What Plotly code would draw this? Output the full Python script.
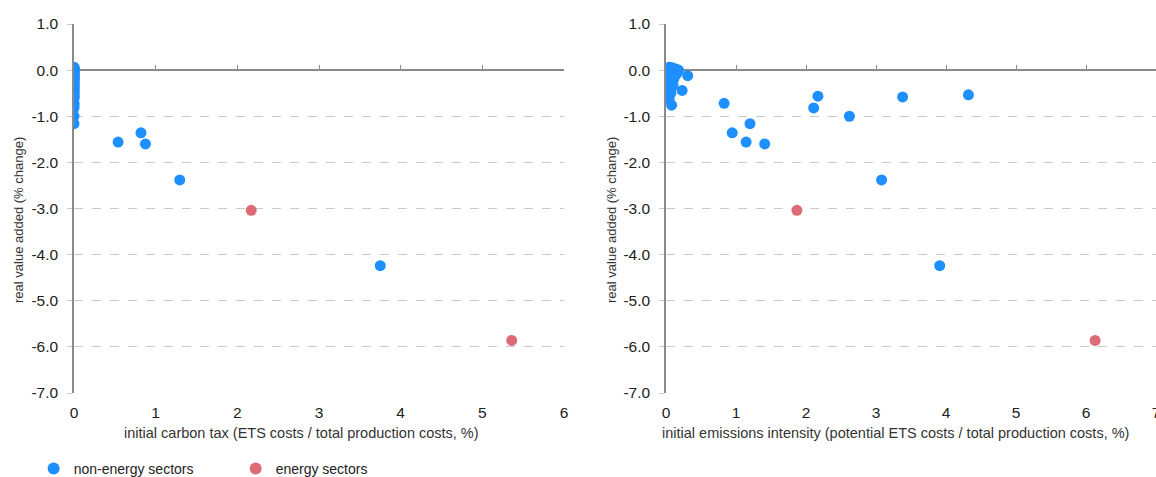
import plotly.graph_objects as go

# ---------------- data ----------------
# non-energy sectors
ne_carbon_tax = [0, 0, 0, 0, 0, 0, 0, 0, 0, 0,
                 0, 0, 0, 0, 0, 0, 0, 0, 0, 0,
                 0, 0, 0, 0, 0, 0, 0, 0, 0, 0,
                 0, 0, 0, 0, 0, 0, 0, 0, 0, 0,
                 0.54, 0.82, 0.875, 1.295, 3.75]
ne_intensity = [0.02, 0.05, 0.09, 0.12, 0.15, 0.18, 0.04, 0.08, 0.13, 0.16,
                0.02, 0.06, 0.10, 0.14, 0.31, 0.03, 0.07, 0.11, 0.01, 0.05,
                0.09, 0.02, 0.06, 0.10, 0.04, 0.08, 0.03, 0.23, 0.06, 0.04,
                0.07, 0.045, 0.08, 0.83, 2.11, 2.17, 2.62, 3.38, 4.32, 1.20,
                1.145, 0.946, 1.41, 3.08, 3.91]
ne_va_change = [0.04, 0.06, 0.05, 0.03, 0.02, 0.00, 0.00, -0.02, -0.04, -0.06,
                -0.08, -0.10, -0.12, -0.10, -0.12, -0.15, -0.17, -0.19, -0.21, -0.23,
                -0.25, -0.28, -0.30, -0.32, -0.35, -0.37, -0.40, -0.44, -0.43, -0.47,
                -0.50, -0.62, -0.76, -0.72, -0.82, -0.565, -1.00, -0.58, -0.535, -1.16,
                -1.56, -1.36, -1.60, -2.38, -4.24]

# energy sectors
en_carbon_tax = [2.17, 5.36]
en_intensity = [1.87, 6.13]
en_va_change = [-3.04, -5.86]

series_names = ["non-energy sectors", "energy sectors"]
series_colors = ["#1E8FFF", "#DC6B76"]

y_ticks = [1, 0, -1, -2, -3, -4, -5, -6, -7]
y_tick_labels = ["1.0", "0.0", "-1.0", "-2.0", "-3.0", "-4.0", "-5.0", "-6.0", "-7.0"]
x1_ticks = [0, 1, 2, 3, 4, 5, 6]
x2_ticks = [0, 1, 2, 3, 4, 5, 6, 7]

x1_title = "initial carbon tax (ETS costs / total production costs, %)"
x2_title = "initial emissions intensity (potential ETS costs / total production costs, %)"
y_title = "real value added (% change)"

# ---------------- layout geometry ----------------
W, H = 1156, 477
FONT = "Liberation Sans, Arial, sans-serif"
TXT = "#222222"
AXC = "#8a8a8a"
GRID = "#c9c9c9"

ydom = [1 - 393 / H, 1 - 24 / H]
x1dom = [74 / W, 564 / W]
x2dom = [666 / W, 1.0]
y_range = [-7, 1]
zero_pos = ydom[0] + (0 - y_range[0]) / (y_range[1] - y_range[0]) * (ydom[1] - ydom[0])

MS = 11

fig = go.Figure()

# left panel
fig.add_trace(go.Scatter(x=ne_carbon_tax, y=ne_va_change, mode="markers",
                         name=series_names[0], legendgroup="ne",
                         marker=dict(color=series_colors[0], size=MS),
                         xaxis="x", yaxis="y"))
fig.add_trace(go.Scatter(x=en_carbon_tax, y=en_va_change, mode="markers",
                         name=series_names[1], legendgroup="en",
                         marker=dict(color=series_colors[1], size=MS),
                         xaxis="x", yaxis="y"))
# right panel
fig.add_trace(go.Scatter(x=ne_intensity, y=ne_va_change, mode="markers",
                         name=series_names[0], legendgroup="ne", showlegend=False,
                         marker=dict(color=series_colors[0], size=MS),
                         xaxis="x2", yaxis="y2"))
fig.add_trace(go.Scatter(x=en_intensity, y=en_va_change, mode="markers",
                         name=series_names[1], legendgroup="en", showlegend=False,
                         marker=dict(color=series_colors[1], size=MS),
                         xaxis="x2", yaxis="y2"))
# empty traces to activate the zero-line axes
fig.add_trace(go.Scatter(x=[], y=[], xaxis="x3", yaxis="y", showlegend=False, hoverinfo="skip"))
fig.add_trace(go.Scatter(x=[], y=[], xaxis="x4", yaxis="y2", showlegend=False, hoverinfo="skip"))

tickfont = dict(family=FONT, size=15.5, color=TXT)
xtitlefont = dict(family=FONT, size=14.5, color="#333333")
ytitlefont = dict(family=FONT, size=13, color="#333333")


def bottom_axis(dom, rng, ticks, anchor):
    return dict(domain=dom, range=rng, anchor=anchor, automargin=False,
                tickmode="array", tickvals=ticks, ticktext=[str(t) for t in ticks],
                showline=False, showgrid=False, zeroline=False, ticks="",
                tickfont=tickfont, ticklabelstandoff=8, ticklabeloverflow="allow",
                layer="below traces")


def zero_axis(over, rng, ticks):
    return dict(overlaying=over, anchor="free", position=zero_pos, side="bottom",
                range=rng, tickmode="array", tickvals=ticks, automargin=False,
                ticks="inside", ticklen=4, tickcolor=AXC, tickwidth=1,
                showticklabels=False, showline=True, linecolor=AXC, linewidth=1.5,
                showgrid=False, zeroline=False, layer="below traces")


def left_axis(anchor):
    return dict(domain=ydom, range=y_range, anchor=anchor, automargin=False,
                tickmode="array", tickvals=y_ticks, ticktext=y_tick_labels,
                showgrid=True, gridcolor=GRID, griddash="dash", gridwidth=1,
                showline=True, linecolor=AXC, linewidth=1.5,
                ticks="outside", ticklen=5, tickcolor=GRID, tickwidth=1,
                zeroline=False, tickfont=tickfont, ticklabelstandoff=6,
                layer="below traces")


annotations = [
    dict(text=x1_title, x=122 / W, y=1 - 433 / H, xref="paper", yref="paper",
         xanchor="left", yanchor="middle", showarrow=False, font=xtitlefont),
    dict(text=x2_title, x=660 / W, y=1 - 433 / H, xref="paper", yref="paper",
         xanchor="left", yanchor="middle", showarrow=False, font=xtitlefont),
    dict(text=y_title, x=18 / W, y=1 - 220 / H, xref="paper", yref="paper",
         xanchor="center", yanchor="middle", showarrow=False, textangle=-90,
         font=ytitlefont),
    dict(text=y_title, x=611 / W, y=1 - 220 / H, xref="paper", yref="paper",
         xanchor="center", yanchor="middle", showarrow=False, textangle=-90,
         font=ytitlefont),
]

fig.update_layout(
    width=W, height=H,
    margin=dict(l=0, r=0, t=0, b=0, autoexpand=False),
    paper_bgcolor="white", plot_bgcolor="white",
    font=dict(family=FONT, color=TXT),
    xaxis=bottom_axis(x1dom, [0, 6], x1_ticks, "y"),
    xaxis2=bottom_axis(x2dom, [0, 7], x2_ticks, "y2"),
    xaxis3=zero_axis("x", [0, 6], x1_ticks),
    xaxis4=zero_axis("x2", [0, 7], x2_ticks),
    yaxis=left_axis("x"),
    yaxis2=left_axis("x2"),
    annotations=annotations,
    showlegend=True,
    legend=dict(orientation="h", x=0.0291, y=1 - 469 / H, xanchor="left", yanchor="middle",
                font=dict(family=FONT, size=14, color=TXT),
                entrywidth=157, entrywidthmode="pixels",
                bgcolor="rgba(0,0,0,0)", itemsizing="constant"),
)

fig.write_html("out.html", config={"displayModeBar": False},
               post_script="document.body.style.margin='0';")
